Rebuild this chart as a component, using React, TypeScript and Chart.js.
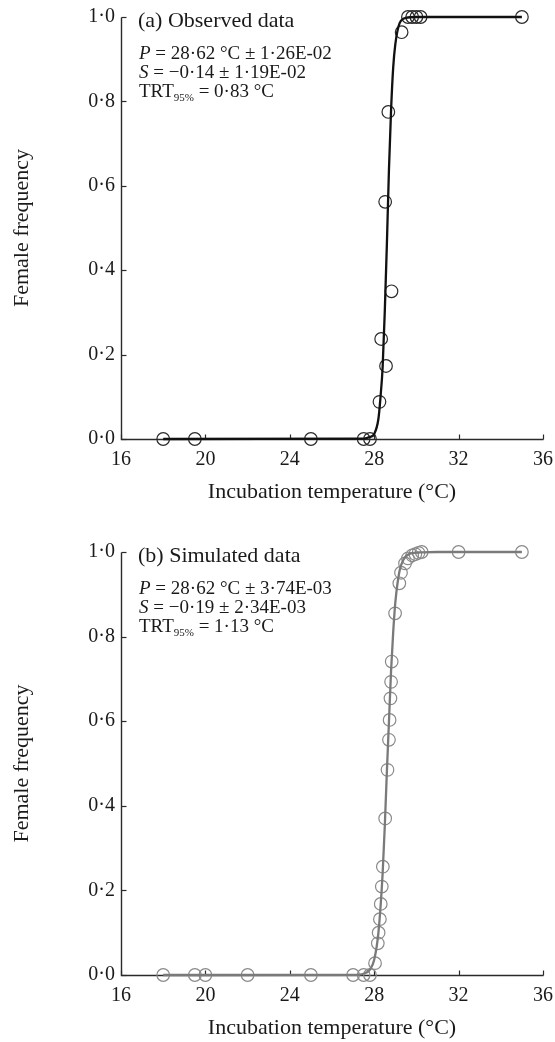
import React, { useEffect, useRef } from 'react';
import { Chart, registerables } from 'chart.js';

Chart.register(...registerables);

// ---------- data ----------
const xTickValues = [16, 20, 24, 28, 32, 36];
const xTickLabels = ['16', '20', '24', '28', '32', '36'];
const yTickValues = [0, 0.2, 0.4, 0.6, 0.8, 1.0];
const yTickLabels = ['0·0', '0·2', '0·4', '0·6', '0·8', '1·0'];

// (a) observed
const obsTemp = [18, 19.5, 25, 27.5, 27.8, 28.25, 28.56, 28.33, 28.82, 28.52, 28.67, 29.3, 29.6, 29.8, 30.0, 30.2, 35];
const obsFreq = [0, 0, 0, 0, 0, 0.088, 0.173, 0.237, 0.35, 0.562, 0.775, 0.964, 1, 1, 1, 1, 1];
const obsFitTemp = [18, 27.5, 27.8, 28.0, 28.2, 28.3, 28.4, 28.5, 28.6, 28.7, 28.8, 28.9, 29.0, 29.2, 29.5, 30.0, 35];
const obsFitFreq = [0, 0.001, 0.005, 0.012, 0.048, 0.1, 0.17, 0.3, 0.46, 0.64, 0.78, 0.88, 0.935, 0.985, 0.998, 1, 1];

// (b) simulated
const simTemp = [18, 19.5, 20, 22, 25, 27, 27.5, 27.8, 28.04, 28.17, 28.21, 28.27, 28.31, 28.36, 28.41, 28.52, 28.63, 28.7, 28.73, 28.77, 28.8, 28.83, 28.99, 29.19, 29.27, 29.46, 29.6, 29.8, 29.95, 30.1, 30.25, 32, 35];
const simFreq = [0, 0, 0, 0, 0, 0, 0, 0, 0.028, 0.075, 0.1, 0.132, 0.168, 0.209, 0.256, 0.37, 0.485, 0.556, 0.603, 0.654, 0.693, 0.741, 0.855, 0.926, 0.951, 0.973, 0.985, 0.992, 0.995, 0.998, 1, 1, 1];
const simFitTemp = [18, 27.0, 27.5, 27.8, 28.0, 28.2, 28.4, 28.5, 28.6, 28.7, 28.8, 28.9, 29.0, 29.2, 29.4, 29.7, 30.2, 31, 35];
const simFitFreq = [0, 0.0002, 0.003, 0.013, 0.036, 0.1, 0.24, 0.35, 0.48, 0.6, 0.72, 0.81, 0.88, 0.955, 0.983, 0.996, 0.999, 1, 1];

const SERIF = '"Liberation Serif", "Times New Roman", Times, serif';

type Seg = { t: string; italic?: boolean; sub?: boolean };

const annA: Seg[][] = [
  [{ t: 'P', italic: true }, { t: ' = 28·62 °C ± 1·26E-02' }],
  [{ t: 'S', italic: true }, { t: ' = −0·14 ± 1·19E-02' }],
  [{ t: 'TRT' }, { t: '95%', sub: true }, { t: ' = 0·83 °C' }],
];
const annB: Seg[][] = [
  [{ t: 'P', italic: true }, { t: ' = 28·62 °C ± 3·74E-03' }],
  [{ t: 'S', italic: true }, { t: ' = −0·19 ± 2·34E-03' }],
  [{ t: 'TRT' }, { t: '95%', sub: true }, { t: ' = 1·13 °C' }],
];

function drawRich(ctx: CanvasRenderingContext2D, x: number, y: number, segs: Seg[], size: number) {
  let cx = x;
  for (const s of segs) {
    const fs = s.sub ? Math.round(size * 0.6) : size;
    ctx.font = `${s.italic ? 'italic ' : ''}${fs}px ${SERIF}`;
    ctx.fillText(s.t, cx, s.sub ? y + size * 0.3 : y);
    cx += ctx.measureText(s.t).width;
  }
}

type PanelProps = {
  top: number;
  height: number;
  padTop: number;
  xAxisHeight: number;
  temp: number[];
  freq: number[];
  fitTemp: number[];
  fitFreq: number[];
  color: string;
  pointColor: string;
  title: string;
  ann: Seg[][];
};

function Panel(p: PanelProps) {
  const ref = useRef<HTMLCanvasElement | null>(null);
  useEffect(() => {
    if (!ref.current) return;
    const axisPlugin = {
      id: 'axisPlugin',
      beforeDatasetsDraw(chart: any) {
        const { ctx, chartArea, scales } = chart;
        const xs = scales.x;
        const ys = scales.y;
        const y0 = Math.round(ys.getPixelForValue(0)) + 0.5;
        const y1 = Math.round(ys.getPixelForValue(1)) + 0.5;
        const xl = Math.round(chartArea.left) + 0.5;
        const xr = Math.round(xs.getPixelForValue(36)) + 0.5;
        ctx.save();
        ctx.strokeStyle = '#2a2a2a';
        ctx.lineWidth = 1.4;
        ctx.beginPath();
        ctx.moveTo(xl, y1);
        ctx.lineTo(xl, y0);
        ctx.lineTo(xr, y0);
        ctx.stroke();
        ctx.lineWidth = 1.2;
        for (const v of xTickValues) {
          const px = Math.round(xs.getPixelForValue(v)) + 0.5;
          ctx.beginPath();
          ctx.moveTo(px, y0);
          ctx.lineTo(px, y0 - 5);
          ctx.stroke();
        }
        for (const v of yTickValues) {
          const py = Math.round(ys.getPixelForValue(v)) + 0.5;
          ctx.beginPath();
          ctx.moveTo(xl, py);
          ctx.lineTo(xl + 5, py);
          ctx.stroke();
        }
        ctx.restore();
      },
      afterDraw(chart: any) {
        const { ctx, chartArea } = chart;
        ctx.save();
        ctx.fillStyle = '#1a1a1a';
        // y title
        ctx.save();
        ctx.translate(22, (chartArea.top + chartArea.bottom) / 2);
        ctx.rotate(-Math.PI / 2);
        ctx.font = `22px ${SERIF}`;
        ctx.textAlign = 'center';
        ctx.textBaseline = 'middle';
        ctx.fillText('Female frequency', 0, 0);
        ctx.restore();
        // x title
        ctx.font = `22px ${SERIF}`;
        ctx.textAlign = 'center';
        ctx.textBaseline = 'middle';
        ctx.fillText('Incubation temperature (°C)', (chartArea.left + chartArea.right) / 2, chartArea.bottom + 53);
        // panel title
        ctx.textAlign = 'left';
        ctx.font = `22px ${SERIF}`;
        ctx.fillText(p.title, 138, chartArea.top + 4);
        // annotations
        const offs = [37, 56, 75];
        p.ann.forEach((line, i) => drawRich(ctx, 139, chartArea.top + offs[i], line, 19));
        ctx.restore();
      },
    };

    const chart = new Chart(ref.current, {
      type: 'scatter',
      data: {
        datasets: [
          {
            label: 'fit',
            data: p.fitTemp.map((t, i) => ({ x: t, y: p.fitFreq[i] })),
            showLine: true,
            borderColor: p.color,
            borderWidth: 2.3,
            pointRadius: 0,
            cubicInterpolationMode: 'monotone',
            clip: false,
          } as any,
          {
            label: 'data',
            data: p.temp.map((t, i) => ({ x: t, y: p.freq[i] })),
            showLine: false,
            pointStyle: 'circle',
            pointRadius: 6.3,
            pointBorderWidth: 1.2,
            pointBorderColor: p.pointColor,
            pointBackgroundColor: 'rgba(0,0,0,0)',
            clip: false,
          } as any,
        ],
      },
      options: {
        animation: false,
        responsive: false,
        devicePixelRatio: 1,
        layout: { padding: { top: p.padTop, right: 12, left: 0, bottom: 0 } },
        plugins: { legend: { display: false }, tooltip: { enabled: false } },
        scales: {
          x: {
            type: 'linear',
            min: 16,
            max: 36,
            afterBuildTicks: (s: any) => {
              s.ticks = xTickValues.map((v) => ({ value: v }));
            },
            afterFit: (s: any) => {
              s.height = p.xAxisHeight;
              s.paddingLeft = 0;
              s.paddingRight = 0;
            },
            ticks: {
              padding: 9,
              color: '#1a1a1a',
              font: { family: SERIF, size: 20 },
              maxRotation: 0,
              autoSkip: false,
              callback: (v: any) => {
                const i = xTickValues.indexOf(Number(v));
                return i >= 0 ? xTickLabels[i] : '';
              },
            },
            grid: { display: false, drawTicks: false },
            border: { display: false },
          },
          y: {
            type: 'linear',
            min: 0,
            max: 1,
            afterBuildTicks: (s: any) => {
              s.ticks = yTickValues.map((v) => ({ value: v }));
            },
            afterFit: (s: any) => {
              s.width = 121;
              s.paddingTop = 0;
              s.paddingBottom = 0;
            },
            ticks: {
              padding: 6,
              color: '#1a1a1a',
              font: { family: SERIF, size: 20 },
              autoSkip: false,
              callback: (v: any) => {
                const i = yTickValues.findIndex((t) => Math.abs(t - Number(v)) < 1e-6);
                return i >= 0 ? yTickLabels[i] : '';
              },
            },
            grid: { display: false, drawTicks: false },
            border: { display: false },
          },
        },
      } as any,
      plugins: [axisPlugin],
    });
    return () => chart.destroy();
  }, []);
  return (
    <canvas
      ref={ref}
      width={555}
      height={p.height}
      style={{ position: 'absolute', left: 0, top: p.top, width: 555, height: p.height }}
    />
  );
}

export default function App() {
  return (
    <div style={{ position: 'fixed', left: 0, top: 0, width: 555, height: 1042, background: '#fff' }}>
      <Panel
        top={0}
        height={520}
        padTop={17}
        xAxisHeight={81}
        temp={obsTemp}
        freq={obsFreq}
        fitTemp={obsFitTemp}
        fitFreq={obsFitFreq}
        color="#111111"
        pointColor="#2a2a2a"
        title="(a) Observed data"
        ann={annA}
      />
      <Panel
        top={520}
        height={522}
        padTop={32}
        xAxisHeight={67}
        temp={simTemp}
        freq={simFreq}
        fitTemp={simFitTemp}
        fitFreq={simFitFreq}
        color="#7a7a7a"
        pointColor="#8a8a8a"
        title="(b) Simulated data"
        ann={annB}
      />
    </div>
  );
}
